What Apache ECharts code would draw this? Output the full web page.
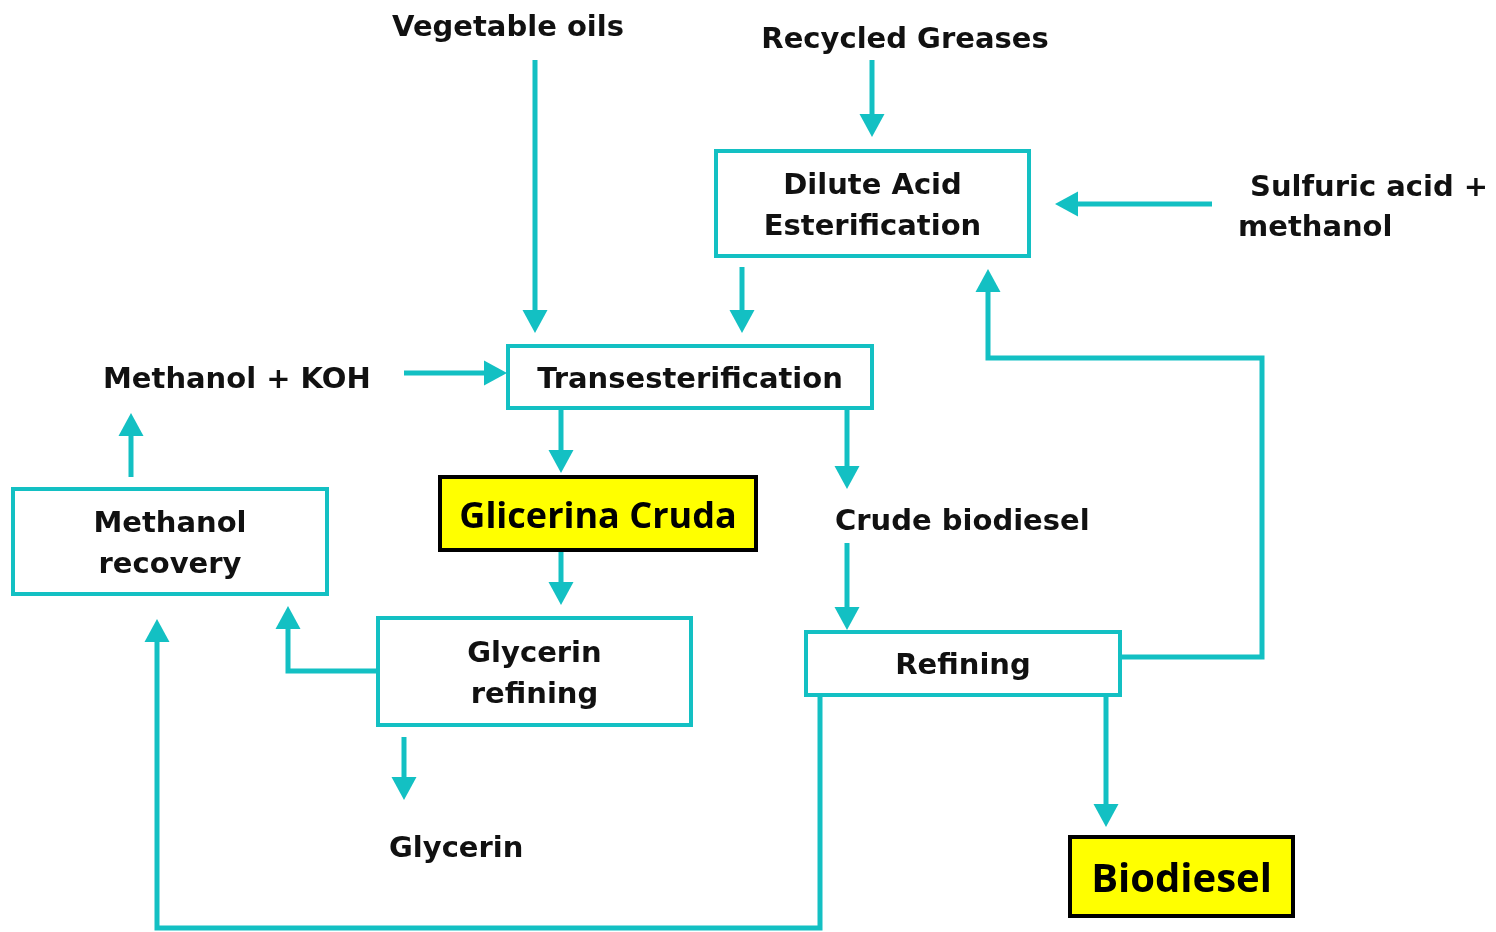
<!DOCTYPE html>
<html>
<head>
<meta charset="utf-8">
<script src="https://cdn.jsdelivr.net/npm/echarts@6/dist/echarts.min.js"></script>
<style>
html,body{margin:0;padding:0;background:#fff;}
#chart{width:1496px;height:932px;}
</style>
</head>
<body>
<div id="chart"></div>
<script>
// ---- Diagram data (in diagram coordinates) ----
// Process boxes (teal outline)
const boxNames = ['Dilute Acid\nEsterification', 'Transesterification', 'Methanol\nrecovery', 'Glycerin\nrefining', 'Refining'];
const boxX0 = [716, 508, 13, 378, 806];
const boxY0 = [151, 346, 489, 618, 632];
const boxX1 = [1029, 872, 327, 691, 1120];
const boxY1 = [256, 408, 594, 725, 695];

// Highlighted boxes (yellow)
const hiNames = ['Glicerina Cruda', 'Biodiesel'];
const hiX0 = [440, 1070];
const hiY0 = [477, 837];
const hiX1 = [756, 1293];
const hiY1 = [550, 916];

// Free labels
const labelTexts = ['Vegetable oils', 'Recycled Greases', 'Sulfuric acid +', 'methanol', 'Methanol + KOH', 'Crude biodiesel', 'Glycerin'];
const labelX = [508, 905, 1250, 1238, 103, 835, 389];
const labelY = [25, 37, 185, 225, 377, 519, 846];
const labelAlign = ['center', 'center', 'left', 'left', 'left', 'left', 'left'];

// Connectors: polylines, arrow tip at last point
const connectors = [
  [[535, 60], [535, 333]],
  [[872, 60], [872, 137]],
  [[742, 267], [742, 333]],
  [[1212, 204], [1055, 204]],
  [[404, 373], [507, 373]],
  [[131, 477], [131, 413]],
  [[561, 410], [561, 473]],
  [[847, 410], [847, 489]],
  [[561, 552], [561, 605]],
  [[847, 543], [847, 630]],
  [[378, 671], [288, 671], [288, 606]],
  [[404, 737], [404, 800]],
  [[820, 695], [820, 928], [157, 928], [157, 619]],
  [[1106, 695], [1106, 827]],
  [[1120, 657], [1262, 657], [1262, 358], [988, 358], [988, 269]]
];

// ---- Styles ----
const TEAL = '#13C0C3';
const TEXT = '#111111';
const plainFont = 'bold 29px "DejaVu Sans", sans-serif';
const hiFont = ['bold 36px "Open Sans", sans-serif', 'bold 40px "Open Sans", sans-serif'];
const TEXT_DY = 3;

const chart = echarts.init(document.getElementById('chart'));

function connectorRender(params, api) {
  const pts = connectors[params.dataIndex].map(p => api.coord(p));
  const n = pts.length;
  const tip = pts[n - 1], prev = pts[n - 2];
  const dx = tip[0] - prev[0], dy = tip[1] - prev[1];
  const len = Math.sqrt(dx * dx + dy * dy);
  const ux = dx / len, uy = dy / len;
  const aLen = 23, aHalf = 12.5;
  const base = [tip[0] - ux * aLen, tip[1] - uy * aLen];
  const linePts = pts.slice(0, n - 1).concat([[base[0] + ux * 2, base[1] + uy * 2]]);
  const tri = [tip, [base[0] - uy * aHalf, base[1] + ux * aHalf], [base[0] + uy * aHalf, base[1] - ux * aHalf]];
  return {
    type: 'group',
    children: [
      { type: 'polyline', shape: { points: linePts }, style: { stroke: TEAL, lineWidth: 5, fill: null, lineJoin: 'miter', lineCap: 'butt' } },
      { type: 'polygon', shape: { points: tri }, style: { fill: TEAL } }
    ]
  };
}

function boxRender(params, api) {
  const p0 = api.coord([api.value(0), api.value(1)]);
  const p1 = api.coord([api.value(2), api.value(3)]);
  return {
    type: 'group',
    children: [
      { type: 'rect', shape: { x: p0[0], y: p0[1], width: p1[0] - p0[0], height: p1[1] - p0[1] },
        style: { fill: '#ffffff', stroke: TEAL, lineWidth: 4 } },
      { type: 'text', x: (p0[0] + p1[0]) / 2, y: (p0[1] + p1[1]) / 2 + TEXT_DY,
        style: { text: boxNames[params.dataIndex], fill: TEXT, font: plainFont, align: 'center', verticalAlign: 'middle', lineHeight: 41 } }
    ]
  };
}

function hiRender(params, api) {
  const p0 = api.coord([api.value(0), api.value(1)]);
  const p1 = api.coord([api.value(2), api.value(3)]);
  return {
    type: 'group',
    children: [
      { type: 'rect', shape: { x: p0[0], y: p0[1], width: p1[0] - p0[0], height: p1[1] - p0[1] },
        style: { fill: '#FFFF00', stroke: '#000000', lineWidth: 4 } },
      { type: 'text', x: (p0[0] + p1[0]) / 2, y: (p0[1] + p1[1]) / 2 + 4,
        style: { text: hiNames[params.dataIndex], fill: '#000', font: hiFont[params.dataIndex], align: 'center', verticalAlign: 'middle' } }
    ]
  };
}

function labelRender(params, api) {
  const p = api.coord([api.value(0), api.value(1)]);
  return {
    type: 'text', x: p[0], y: p[1] + TEXT_DY,
    style: { text: labelTexts[params.dataIndex], fill: TEXT, font: plainFont, align: labelAlign[params.dataIndex], verticalAlign: 'middle' }
  };
}

chart.setOption({
  animation: false,
  backgroundColor: '#ffffff',
  grid: { left: 0, right: 0, top: 0, bottom: 0 },
  xAxis: { type: 'value', min: 0, max: 1496, show: false },
  yAxis: { type: 'value', min: 0, max: 932, inverse: true, show: false },
  series: [
    { type: 'custom', renderItem: connectorRender, clip: false,
      data: connectors.map(c => c[c.length - 1]), encode: { x: 0, y: 1 } },
    { type: 'custom', renderItem: boxRender, clip: false,
      data: boxX0.map((x, i) => [x, boxY0[i], boxX1[i], boxY1[i]]), encode: { x: [0, 2], y: [1, 3] } },
    { type: 'custom', renderItem: hiRender, clip: false,
      data: hiX0.map((x, i) => [x, hiY0[i], hiX1[i], hiY1[i]]), encode: { x: [0, 2], y: [1, 3] } },
    { type: 'custom', renderItem: labelRender, clip: false,
      data: labelX.map((x, i) => [x, labelY[i]]), encode: { x: 0, y: 1 } }
  ]
});
</script>
</body>
</html>
